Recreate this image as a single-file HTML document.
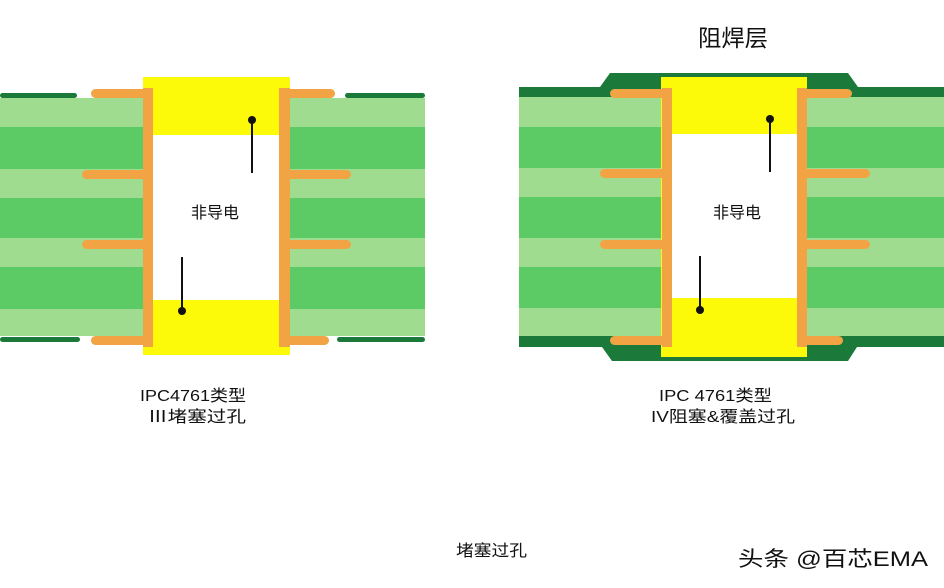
<!DOCTYPE html>
<html><head><meta charset="utf-8"><style>
html,body{margin:0;padding:0;background:#fff;}
svg{display:block;}
text{font-family:"Liberation Sans","Noto Sans CJK SC",sans-serif;fill:#111;}
</style></head><body>
<svg width="944" height="588" viewBox="0 0 944 588" xmlns="http://www.w3.org/2000/svg">
<rect width="944" height="588" fill="#fff"/>
<!-- LEFT -->
<g>
  <g>
    <rect x="0" y="98" width="143" height="29" fill="#a0dc8f"/>
    <rect x="0" y="127" width="143" height="42" fill="#5ccb66"/>
    <rect x="0" y="169" width="143" height="29" fill="#a0dc8f"/>
    <rect x="0" y="198" width="143" height="40" fill="#5ccb66"/>
    <rect x="0" y="238" width="143" height="29" fill="#a0dc8f"/>
    <rect x="0" y="267" width="143" height="42" fill="#5ccb66"/>
    <rect x="0" y="309" width="143" height="27" fill="#a0dc8f"/>
    <rect x="290" y="98" width="135" height="29" fill="#a0dc8f"/>
    <rect x="290" y="127" width="135" height="42" fill="#5ccb66"/>
    <rect x="290" y="169" width="135" height="29" fill="#a0dc8f"/>
    <rect x="290" y="198" width="135" height="40" fill="#5ccb66"/>
    <rect x="290" y="238" width="135" height="29" fill="#a0dc8f"/>
    <rect x="290" y="267" width="135" height="42" fill="#5ccb66"/>
    <rect x="290" y="309" width="135" height="27" fill="#a0dc8f"/>
  </g>
  <rect x="0" y="93" width="77" height="5" rx="2.5" fill="#1b7a3a"/>
  <rect x="345" y="93" width="80" height="5" rx="2.5" fill="#1b7a3a"/>
  <rect x="0" y="337" width="80" height="5" rx="2.5" fill="#1b7a3a"/>
  <rect x="337" y="337" width="88" height="5" rx="2.5" fill="#1b7a3a"/>
  <rect x="143" y="77" width="147" height="278" fill="#fcfa08"/>
  <rect x="153" y="135" width="126" height="165" fill="#fff"/>
  <rect x="143" y="88" width="10" height="259" fill="#f2a445"/>
  <rect x="279" y="88" width="11" height="259" fill="#f2a445"/>
  <rect x="91" y="89" width="62" height="9" rx="4.5" fill="#f2a445"/>
  <rect x="279" y="89" width="56" height="9" rx="4.5" fill="#f2a445"/>
  <rect x="82" y="170" width="68" height="9" rx="4.5" fill="#f2a445"/>
  <rect x="283" y="170" width="68" height="9" rx="4.5" fill="#f2a445"/>
  <rect x="82" y="240" width="68" height="9" rx="4.5" fill="#f2a445"/>
  <rect x="283" y="240" width="68" height="9" rx="4.5" fill="#f2a445"/>
  <rect x="91" y="336" width="62" height="9" rx="4.5" fill="#f2a445"/>
  <rect x="279" y="336" width="50" height="9" rx="4.5" fill="#f2a445"/>
  <line x1="252" y1="120" x2="252" y2="173" stroke="#111" stroke-width="2"/>
  <circle cx="252" cy="120" r="4" fill="#111"/>
  <line x1="182" y1="257" x2="182" y2="311" stroke="#111" stroke-width="2"/>
  <circle cx="182" cy="311" r="4" fill="#111"/>
  <text x="215" y="218" font-size="16" text-anchor="middle">非导电</text>
</g>
<!-- RIGHT -->
<g>
  <path d="M519 87 L600 87 L610 73 L848 73 L858 87 L944 87 L944 347 L857 347 L848 361 L612 361 L602 347 L519 347 Z" fill="#1b7a3a"/>
  <rect x="519" y="97" width="143" height="30" fill="#a0dc8f"/>
  <rect x="519" y="127" width="143" height="41" fill="#5ccb66"/>
  <rect x="519" y="168" width="143" height="29" fill="#a0dc8f"/>
  <rect x="519" y="197" width="143" height="41" fill="#5ccb66"/>
  <rect x="519" y="238" width="143" height="29" fill="#a0dc8f"/>
  <rect x="519" y="267" width="143" height="41" fill="#5ccb66"/>
  <rect x="519" y="308" width="143" height="28" fill="#a0dc8f"/>
  <rect x="807" y="97" width="137" height="30" fill="#a0dc8f"/>
  <rect x="807" y="127" width="137" height="41" fill="#5ccb66"/>
  <rect x="807" y="168" width="137" height="29" fill="#a0dc8f"/>
  <rect x="807" y="197" width="137" height="41" fill="#5ccb66"/>
  <rect x="807" y="238" width="137" height="29" fill="#a0dc8f"/>
  <rect x="807" y="267" width="137" height="41" fill="#5ccb66"/>
  <rect x="807" y="308" width="137" height="28" fill="#a0dc8f"/>
  <rect x="661" y="77" width="146" height="280" fill="#fcfa08"/>
  <rect x="672" y="134" width="125" height="164" fill="#fff"/>
  <rect x="662" y="88" width="10" height="259" fill="#f2a445"/>
  <rect x="797" y="88" width="10" height="259" fill="#f2a445"/>
  <rect x="610" y="89" width="62" height="9" rx="4.5" fill="#f2a445"/>
  <rect x="797" y="89" width="55" height="9" rx="4.5" fill="#f2a445"/>
  <rect x="600" y="169" width="70" height="9" rx="4.5" fill="#f2a445"/>
  <rect x="800" y="169" width="70" height="9" rx="4.5" fill="#f2a445"/>
  <rect x="600" y="240" width="70" height="9" rx="4.5" fill="#f2a445"/>
  <rect x="800" y="240" width="70" height="9" rx="4.5" fill="#f2a445"/>
  <rect x="610" y="336" width="62" height="9" rx="4.5" fill="#f2a445"/>
  <rect x="797" y="336" width="46" height="9" rx="4.5" fill="#f2a445"/>
  <line x1="770" y1="119" x2="770" y2="172" stroke="#111" stroke-width="2"/>
  <circle cx="770" cy="119" r="4" fill="#111"/>
  <line x1="700" y1="256" x2="700" y2="310" stroke="#111" stroke-width="2"/>
  <circle cx="700" cy="310" r="4" fill="#111"/>
  <text x="737" y="218" font-size="16" text-anchor="middle">非导电</text>
</g>
<text x="698" y="46" font-size="23" textLength="70" lengthAdjust="spacingAndGlyphs">阻焊层</text>
<text x="140" y="401" font-size="16" textLength="106" lengthAdjust="spacingAndGlyphs">IPC4761类型</text>
<text x="148" y="422" font-size="16" textLength="98" lengthAdjust="spacingAndGlyphs">Ⅲ堵塞过孔</text>
<text x="659" y="401" font-size="16" textLength="113" lengthAdjust="spacingAndGlyphs">IPC 4761类型</text>
<text x="651" y="422" font-size="16" textLength="144" lengthAdjust="spacingAndGlyphs">IV阻塞&amp;覆盖过孔</text>
<text x="456" y="556" font-size="16" textLength="71" lengthAdjust="spacingAndGlyphs">堵塞过孔</text>
<text x="738" y="566" font-size="21" fill="#222" textLength="190" lengthAdjust="spacingAndGlyphs">头条 @百芯EMA</text>
</svg>
</body></html>
